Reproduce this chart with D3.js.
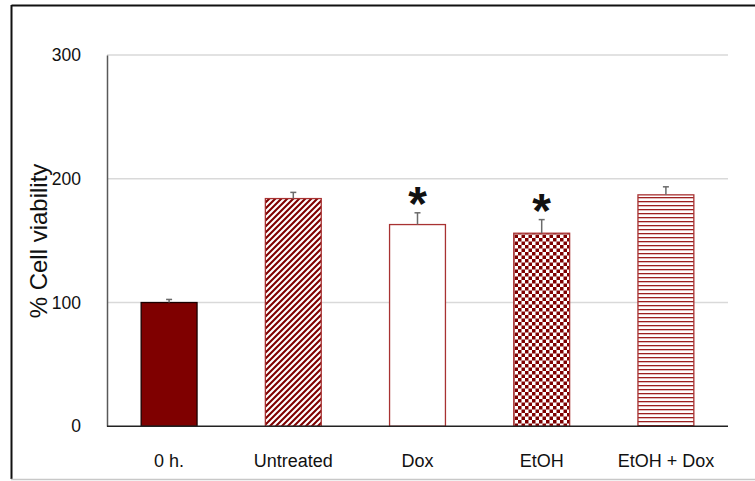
<!DOCTYPE html>
<html>
<head>
<meta charset="utf-8">
<script src="https://cdn.jsdelivr.net/npm/d3@7"></script>
<style>
  html, body { margin: 0; padding: 0; background: #fff; }
  svg { display: block; font-family: "Liberation Sans", Arial, sans-serif; }
</style>
</head>
<body>
<svg id="chart" width="755" height="481"></svg>
<script>
const categories = ["0 h.", "Untreated", "Dox", "EtOH", "EtOH + Dox"];
const values = [100, 184, 163, 156, 187];
const errors = [2.5, 5, 9.5, 11, 6.5];
const significant = [false, false, true, true, false];
const patterns = ["solid", "diagonal", "none", "checker", "horizontal"];
const yTicks = [0, 100, 200, 300];
const yLabel = "% Cell viability";

const svg = d3.select("#chart");
const margin = { left: 107, right: 27, top: 55, bottom: 54.7 };
const W = 755, H = 481;

// outer frame
svg.append("line").attr("x1", 11.5).attr("x2", 760).attr("y1", 5.5).attr("y2", 5.5)
  .attr("stroke", "#111").attr("stroke-width", 2);
svg.append("line").attr("x1", 11.5).attr("x2", 11.5).attr("y1", 5).attr("y2", 479)
  .attr("stroke", "#111").attr("stroke-width", 2);
svg.append("line").attr("x1", 11).attr("x2", 760).attr("y1", 479.5).attr("y2", 479.5)
  .attr("stroke", "#c8c8c8").attr("stroke-width", 1.5);

const defs = svg.append("defs");
const dark = "#7f0000";
// diagonal stripes
const pd = defs.append("pattern").attr("id", "diagonal").attr("patternUnits", "userSpaceOnUse")
  .attr("width", 6).attr("height", 6);
pd.append("rect").attr("width", 6).attr("height", 6).attr("fill", "#fff");
pd.append("path").attr("d", "M-1,1 l2,-2 M0,6 l6,-6 M5,7 l2,-2")
  .attr("stroke", dark).attr("stroke-width", 2.1);
// checker
const pc = defs.append("pattern").attr("id", "checker").attr("patternUnits", "userSpaceOnUse")
  .attr("width", 7).attr("height", 7);
pc.append("rect").attr("width", 7).attr("height", 7).attr("fill", "#fff");
pc.append("rect").attr("width", 3.5).attr("height", 3.5).attr("fill", dark);
pc.append("rect").attr("x", 3.5).attr("y", 3.5).attr("width", 3.5).attr("height", 3.5).attr("fill", dark);
// horizontal lines
const ph = defs.append("pattern").attr("id", "horizontal").attr("patternUnits", "userSpaceOnUse")
  .attr("width", 8).attr("height", 4);
ph.append("rect").attr("width", 8).attr("height", 4).attr("fill", "#fff");
ph.append("rect").attr("y", 1).attr("width", 8).attr("height", 1.3).attr("fill", "#9e2020");

const x = d3.scaleBand().domain(categories)
  .range([margin.left, W - margin.right]).paddingInner(0.55).paddingOuter(0.275);
const y = d3.scaleLinear().domain([0, 300]).range([H - margin.bottom, margin.top]);

// gridlines
svg.append("g").selectAll("line").data(yTicks.filter(d => d > 0)).join("line")
  .attr("x1", margin.left).attr("x2", W - margin.right)
  .attr("y1", d => y(d)).attr("y2", d => y(d))
  .attr("stroke", "#d9d9d9").attr("stroke-width", 1.5);

// y axis
const yAxis = d3.axisLeft(y).tickValues(yTicks).tickSize(0).tickPadding(26);
const gy = svg.append("g").attr("transform", `translate(${margin.left},0)`).call(yAxis);
gy.attr("font-family", "Liberation Sans, Arial, sans-serif").attr("font-size", 17.5);
gy.select(".domain").attr("stroke", "#595959").attr("stroke-width", 1.5);
gy.selectAll("text").attr("fill", "#111");

// y label
svg.append("text").attr("transform", `translate(47,241) rotate(-90)`)
  .attr("text-anchor", "middle").attr("font-size", 24).attr("fill", "#111").text(yLabel);

// bars
const fills = { solid: dark, diagonal: "url(#diagonal)", none: "#fff", checker: "url(#checker)", horizontal: "url(#horizontal)" };
const strokes = { solid: "#1a0000", diagonal: "#a83232", none: "#a83232", checker: "#a83232", horizontal: "#a83232" };
svg.append("g").selectAll("rect").data(categories).join("rect")
  .attr("x", d => x(d)).attr("width", x.bandwidth())
  .attr("y", (d, i) => y(values[i])).attr("height", (d, i) => y(0) - y(values[i]))
  .attr("fill", (d, i) => fills[patterns[i]])
  .attr("stroke", (d, i) => strokes[patterns[i]]).attr("stroke-width", 1.3);

// error bars
const eg = svg.append("g").attr("stroke", "#6b6b6b").attr("stroke-width", 1.5);
categories.forEach((c, i) => {
  const cx = x(c) + x.bandwidth() / 2;
  eg.append("line").attr("x1", cx).attr("x2", cx).attr("y1", y(values[i])).attr("y2", y(values[i] + errors[i]));
  eg.append("line").attr("x1", cx - 3).attr("x2", cx + 3).attr("y1", y(values[i] + errors[i])).attr("y2", y(values[i] + errors[i]));
});

// significance stars
svg.append("g").selectAll("text").data(categories.filter((c, i) => significant[i])).join("text")
  .attr("x", d => x(d) + x.bandwidth() / 2)
  .attr("y", d => { const i = categories.indexOf(d); return y(values[i] + errors[i]) + 7; })
  .attr("text-anchor", "middle").attr("font-size", 48).attr("font-weight", "bold").attr("fill", "#111")
  .text("*");

// baseline
svg.append("line").attr("x1", margin.left).attr("x2", W - margin.right)
  .attr("y1", y(0)).attr("y2", y(0)).attr("stroke", "#222").attr("stroke-width", 1.5);

// x labels
const xAxis = d3.axisBottom(x).tickSize(0).tickPadding(0);
const gx = svg.append("g").attr("transform", `translate(0,467)`).call(xAxis);
gx.attr("font-family", "Liberation Sans, Arial, sans-serif").attr("font-size", 18);
gx.select(".domain").remove();
gx.selectAll("text").attr("fill", "#111").attr("dy", 0);
</script>
</body>
</html>
